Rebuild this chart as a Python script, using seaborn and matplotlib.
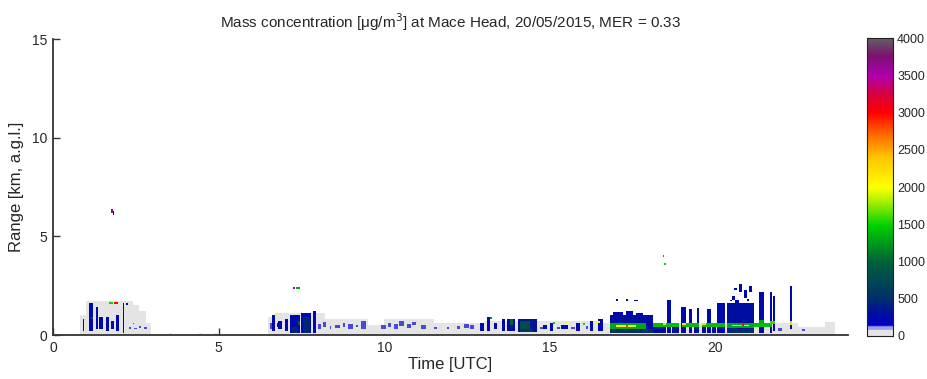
import numpy as np
import pandas as pd
import matplotlib
matplotlib.use("Agg")
import matplotlib.pyplot as plt
from matplotlib.colors import LinearSegmentedColormap
import seaborn as sns

# ---------------- data ----------------
time_step = 0.05      # h
range_step = 0.05     # km
time_max = 24.0
range_max = 15.0

x_ticks = [0, 5, 10, 15, 20]
y_ticks = [0, 5, 10, 15]
cbar_ticks = [0, 500, 1000, 1500, 2000, 2500, 3000, 3500, 4000]

# patches: (t_start, t_end, z_bottom, z_top, mass concentration µg/m3)
gray_patches = [
    (0.80, 1.00, 0.0, 1.0, 40), (1.00, 2.40, 0.0, 1.7, 40), (2.40, 2.60, 0.0, 1.5, 40),
    (2.60, 2.80, 0.0, 1.2, 40), (2.80, 2.95, 0.0, 0.6, 40),
    (3.50, 3.60, 0.0, 0.1, 40), (4.40, 4.50, 0.0, 0.1, 40), (4.85, 5.00, 0.0, 0.1, 40),
    (6.50, 6.70, 0.0, 0.9, 40), (6.70, 8.20, 0.0, 1.1, 40), (8.20, 9.50, 0.0, 0.8, 40),
    (9.50, 10.0, 0.0, 0.5, 40), (10.0, 11.5, 0.0, 0.8, 40), (11.5, 12.5, 0.0, 0.6, 40),
    (12.5, 13.0, 0.0, 0.6, 40), (13.0, 16.5, 0.0, 0.7, 40), (16.5, 22.5, 0.0, 0.6, 40),
    (22.5, 23.3, 0.0, 0.4, 40), (23.3, 23.6, 0.0, 0.65, 40),
]

light_blue_patches = [
    (2.30, 2.35, 0.30, 0.40, 138), (2.45, 2.55, 0.30, 0.35, 138), (2.60, 2.65, 0.35, 0.45, 138),
    (2.75, 2.85, 0.30, 0.40, 138), (2.40, 2.45, 0.55, 0.60, 138),
    (6.55, 6.60, 0.30, 0.60, 138), (8.00, 8.10, 0.30, 0.55, 138), (8.15, 8.25, 0.40, 0.65, 138),
    (8.35, 8.40, 0.30, 0.45, 138), (8.50, 8.65, 0.35, 0.50, 138), (8.75, 8.80, 0.40, 0.60, 138),
    (8.90, 9.05, 0.30, 0.55, 138), (9.15, 9.20, 0.40, 0.50, 138), (9.30, 9.45, 0.30, 0.70, 138),
    (9.90, 10.05, 0.30, 0.50, 138), (10.10, 10.20, 0.40, 0.60, 138), (10.30, 10.40, 0.30, 0.55, 138),
    (10.45, 10.60, 0.45, 0.70, 138), (10.70, 10.80, 0.35, 0.55, 138), (10.85, 10.95, 0.50, 0.65, 138),
    (11.10, 11.25, 0.30, 0.50, 138), (11.50, 11.60, 0.30, 0.40, 138), (11.90, 11.95, 0.30, 0.40, 138),
    (12.20, 12.30, 0.30, 0.45, 138), (12.40, 12.55, 0.35, 0.55, 138), (12.60, 12.70, 0.30, 0.50, 138),
    (14.70, 14.80, 0.30, 0.40, 138), (15.20, 15.30, 0.30, 0.40, 138), (15.65, 15.75, 0.30, 0.40, 138),
    (16.10, 16.15, 0.30, 0.45, 138), (21.90, 22.00, 0.20, 0.35, 138), (22.60, 22.70, 0.20, 0.30, 138),
]

blue_patches = [
    (0.88, 0.93, 0.2, 0.8, 250), (1.12, 1.22, 0.2, 1.6, 250), (1.32, 1.36, 0.3, 1.4, 250),
    (1.42, 1.48, 0.3, 0.9, 250), (1.62, 1.72, 0.2, 0.9, 250), (1.76, 1.84, 0.3, 0.7, 250),
    (1.90, 2.00, 0.2, 1.0, 250), (2.08, 2.12, 0.1, 1.6, 250), (2.20, 2.25, 1.5, 1.6, 250),
    (6.60, 6.70, 0.2, 1.0, 250), (6.80, 6.90, 0.3, 0.7, 250), (7.00, 7.10, 0.2, 0.8, 250),
    (7.15, 7.45, 0.1, 1.0, 250), (7.50, 7.80, 0.1, 1.1, 250), (7.55, 7.75, 0.1, 0.9, 450),
    (7.85, 7.95, 0.1, 1.2, 250), (6.75, 6.80, 0.4, 0.6, 250),
    (12.9, 13.0, 0.2, 0.6, 250), (13.1, 13.2, 0.2, 0.9, 250), (13.3, 13.4, 0.3, 0.6, 250),
    (13.55, 13.65, 0.2, 0.8, 250), (13.7, 13.95, 0.2, 0.8, 250), (14.05, 14.6, 0.15, 0.8, 350),
    (14.8, 14.9, 0.3, 0.5, 250), (15.0, 15.1, 0.2, 0.6, 250), (15.35, 15.55, 0.3, 0.5, 250),
    (15.8, 15.9, 0.2, 0.6, 250), (16.2, 16.3, 0.2, 0.7, 250), (16.45, 16.6, 0.2, 0.8, 250),
    (16.8, 18.1, 0.1, 1.0, 300), (16.9, 17.2, 1.0, 1.15, 250), (17.3, 17.5, 1.0, 1.2, 250),
    (17.6, 17.8, 1.0, 1.1, 250), (17.0, 17.05, 1.75, 1.85, 250), (17.3, 17.35, 1.75, 1.85, 250),
    (17.55, 17.65, 1.7, 1.8, 250),
    (18.1, 18.5, 0.1, 0.4, 300), (18.55, 18.65, 0.1, 1.8, 250), (18.7, 18.9, 0.1, 0.4, 300),
    (18.95, 19.1, 0.1, 1.4, 250), (19.2, 19.3, 0.1, 1.3, 250), (19.35, 19.45, 0.1, 0.4, 300),
    (19.45, 19.5, 0.1, 1.35, 250), (19.6, 19.7, 0.1, 0.4, 300),
    (19.75, 19.85, 0.1, 1.3, 250), (19.9, 20.0, 0.1, 0.4, 300),
    (20.05, 20.3, 0.1, 1.6, 250), (20.35, 21.15, 0.1, 1.6, 300),
    (20.45, 20.5, 1.7, 1.8, 250), (20.5, 20.6, 1.8, 2.0, 250), (20.6, 20.7, 1.6, 1.8, 250),
    (20.7, 20.8, 2.2, 2.6, 250), (20.85, 20.95, 1.9, 2.3, 250), (21.0, 21.1, 2.2, 2.5, 250),
    (20.55, 20.65, 2.3, 2.4, 250), (20.95, 21.0, 1.7, 1.85, 250),
    (21.3, 21.45, 0.1, 2.2, 250), (21.65, 21.7, 0.1, 2.2, 250), (21.75, 21.8, 0.2, 2.0, 250),
    (22.25, 22.3, 0.3, 2.5, 250), (1.80, 1.85, 6.1, 6.3, 250),
]

navy_patches = [
    (16.8, 18.1, 0.1, 0.3, 500), (20.35, 21.15, 0.1, 0.3, 500), (14.1, 14.5, 0.15, 0.3, 550),
    (7.20, 7.40, 0.1, 0.4, 450),
]

green_patches = [
    (1.15, 1.20, 0.8, 0.9, 900), (7.40, 7.45, 0.5, 0.7, 1000), (13.2, 13.25, 0.8, 0.9, 1200),
    (13.8, 13.9, 0.5, 0.8, 1000), (14.1, 14.4, 0.3, 0.7, 800), (15.1, 15.15, 0.55, 0.65, 1500),
    (16.0, 16.05, 0.5, 0.6, 1500), (16.8, 17.9, 0.3, 0.6, 1300), (18.1, 18.9, 0.4, 0.6, 1400),
    (19.0, 19.5, 0.4, 0.6, 1400), (19.6, 20.3, 0.4, 0.6, 1400), (20.9, 21.7, 0.4, 0.6, 1400),
    (20.35, 21.15, 0.35, 0.6, 1300), (21.3, 21.45, 0.6, 0.75, 1300), (21.65, 21.8, 0.55, 0.7, 1600),
    (22.25, 22.3, 0.6, 0.7, 1800), (1.70, 1.80, 1.55, 1.65, 1500),
    (7.35, 7.45, 2.35, 2.45, 1300), (18.4, 18.45, 3.95, 4.05, 1300), (18.45, 18.5, 3.55, 3.65, 1500),
]

yellow_patches = [
    (6.70, 6.75, 1.0, 1.1, 2000), (7.30, 7.35, 1.0, 1.1, 2000), (15.5, 15.55, 0.55, 0.65, 2000),
    (16.4, 16.5, 0.6, 0.7, 2000), (17.0, 17.6, 0.4, 0.5, 2100), (18.4, 18.5, 0.5, 0.6, 2200),
    (19.0, 19.1, 0.5, 0.6, 2200), (19.6, 19.7, 0.5, 0.6, 2200), (20.5, 21.0, 0.45, 0.5, 2200),
    (22.25, 22.3, 0.5, 0.6, 2300),
]

hot_patches = [
    (1.85, 1.95, 1.55, 1.65, 3000), (20.8, 20.85, 0.45, 0.55, 3000), (17.3, 17.35, 0.4, 0.5, 2800),
    (1.75, 1.80, 6.2, 6.4, 3600), (7.25, 7.30, 2.35, 2.45, 3600),
]

title = "Mass concentration [\u03bcg/m$^3$] at Mace Head, 20/05/2015, MER = 0.33"
x_label = "Time [UTC]"
y_label = "Range [km, a.g.l.]"

# ---------------- build the grid ----------------
n_t = int(round(time_max / time_step))
n_z = int(round(range_max / range_step))
grid = np.full((n_z, n_t), np.nan)
for layer in [gray_patches, light_blue_patches, blue_patches, navy_patches,
              green_patches, yellow_patches, hot_patches]:
    for t0, t1, z0, z1, v in layer:
        c0 = int(round(t0 / time_step))
        c1 = max(int(round(t1 / time_step)), c0 + 1)
        r0 = int(round(z0 / range_step))
        r1 = max(int(round(z1 / range_step)), r0 + 1)
        grid[r0:r1, c0:c1] = v

df = pd.DataFrame(grid)

# ---------------- colormap ----------------
nodes = [
    (0.000, "#e4e4e4"), (0.018, "#e4e4e4"), (0.022, "#a0a0e8"), (0.030, "#a0a0e8"),
    (0.036, "#0000c8"), (0.080, "#00109a"), (0.125, "#00306a"), (0.250, "#006238"),
    (0.370, "#00d000"), (0.450, "#a8f000"), (0.500, "#ffff00"), (0.600, "#ffc400"),
    (0.680, "#ff6400"), (0.750, "#ff0000"), (0.810, "#d8003c"), (0.875, "#b000b0"),
    (0.940, "#7c1070"), (1.000, "#606060"),
]
cmap = LinearSegmentedColormap.from_list("mass", nodes, N=512)

# ---------------- plot ----------------
sns.set_style("white")
plt.rcParams["font.family"] = ["Liberation Sans", "DejaVu Sans"]

fig = plt.figure(figsize=(9.27, 3.79), dpi=100)
ax = fig.add_axes([0.0572, 0.116, 0.8576, 0.781])
cax = fig.add_axes([0.9353, 0.1135, 0.028, 0.786])

sns.heatmap(df, ax=ax, cmap=cmap, vmin=0, vmax=4000, cbar=True, cbar_ax=cax,
            xticklabels=False, yticklabels=False, rasterized=True)
ax.invert_yaxis()
ax.set_xlim(0, n_t)
ax.set_ylim(0, n_z)

for side in ["left", "bottom"]:
    ax.spines[side].set_visible(True)
    ax.spines[side].set_color("#333333")
    ax.spines[side].set_linewidth(1.3)
for side in ["top", "right"]:
    ax.spines[side].set_visible(False)

ax.set_xticks([v / time_step for v in x_ticks])
ax.set_xticklabels([str(v) for v in x_ticks], fontsize=10, rotation=0)
ax.set_yticks([v / range_step for v in y_ticks])
ax.set_yticklabels([str(v) for v in y_ticks], fontsize=10, rotation=0)
ax.tick_params(axis="both", direction="in", length=5, width=1, color="#333333",
               bottom=True, left=True, pad=4)
ax.set_xlabel(x_label, fontsize=12, labelpad=2)
ax.set_ylabel(y_label, fontsize=12, labelpad=6)
ax.set_title(title, fontsize=11, pad=8)

cb = ax.collections[0].colorbar
cb.set_ticks(cbar_ticks)
cb.set_ticklabels([str(v) for v in cbar_ticks])
cb.outline.set_visible(True)
cb.outline.set_linewidth(0.8)
cb.outline.set_edgecolor("#222222")
cax.tick_params(direction="in", length=3, width=0.8, left=True, right=True,
                labelsize=9, pad=3)

fig.savefig("out.png", dpi=100)
